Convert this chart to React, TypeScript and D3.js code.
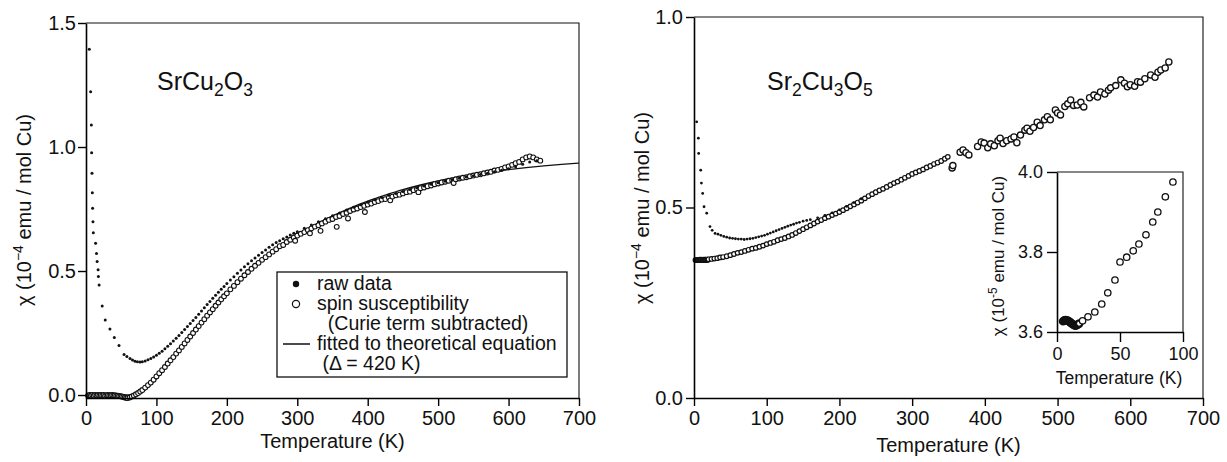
import React, { useEffect, useRef } from "react";
import * as d3 from "d3";

const W = 1227;
const H = 462;
const FONT = "'Liberation Sans', Arial, Helvetica, sans-serif";

type Pt = [number, number];

// ---- SrCu2O3 (left panel), T in K, chi in 1e-4 emu / mol Cu ----
const srCu2O3Raw: Pt[] = [
  [4.7, 1.394], [6.6, 1.223], [7.6, 1.089], [8.0, 0.977], [8.5, 0.894], [9.0, 0.816],
  [9.4, 0.753], [9.9, 0.699], [10.4, 0.654], [13.6, 0.612], [14.9, 0.571], [15.8, 0.538],
  [17.2, 0.505], [17.6, 0.478], [18.6, 0.444], [23, 0.359], [27.3, 0.302], [34, 0.266],
  [40.2, 0.232], [46.9, 0.2], [54, 0.163], [58, 0.155], [62.5, 0.147], [66, 0.141],
  [69.6, 0.136], [73, 0.134], [76.7, 0.133], [80, 0.134], [84, 0.137], [88, 0.142],
  [92, 0.147], [96, 0.153], [100, 0.16], [104, 0.168], [108, 0.177], [112, 0.187],
  [116, 0.197], [120, 0.207], [124, 0.218], [128, 0.229], [132, 0.24], [136, 0.252],
  [140, 0.264], [144, 0.276], [148, 0.288], [152, 0.3], [156, 0.313], [160, 0.326],
  [164, 0.339], [168, 0.352], [172, 0.365], [176, 0.377], [180, 0.39], [184, 0.402],
  [188, 0.414], [192, 0.426], [196, 0.438], [200, 0.45], [205, 0.464], [210, 0.477],
  [215, 0.491], [220, 0.504], [225, 0.517], [230, 0.529], [235, 0.541], [240, 0.552],
  [245, 0.564], [250, 0.575], [255, 0.585], [260, 0.596], [265, 0.606], [270, 0.615],
  [275, 0.622], [280, 0.63], [285, 0.637], [290, 0.645], [295, 0.652], [300, 0.658],
  [310, 0.672], [320, 0.686], [330, 0.699], [340, 0.711], [350, 0.723], [360, 0.734],
  [370, 0.746], [380, 0.757], [390, 0.767], [400, 0.777], [410, 0.787], [420, 0.796],
  [430, 0.805], [440, 0.813], [450, 0.821], [460, 0.829], [470, 0.836], [480, 0.843],
  [490, 0.85], [500, 0.856], [510, 0.862], [520, 0.868], [530, 0.874], [540, 0.879],
  [550, 0.884], [560, 0.889], [570, 0.894], [580, 0.9], [590, 0.906], [600, 0.912],
  [610, 0.92], [620, 0.93], [630, 0.94], [640, 0.945],
];

const srCu2O3Spin: Pt[] = [
  [3, -0.002], [5, 0.0], [7, -0.002], [9, 0.0], [11, -0.003], [13, 0.0], [15, -0.002],
  [17, 0.0], [19, -0.002], [21, 0.0], [23, -0.002], [25, 0.0], [27, -0.003], [29, -0.001],
  [31, 0.0], [33, -0.002], [35, -0.001], [37, 0.0], [39, -0.002], [41, -0.001], [43, -0.003],
  [45, -0.003], [47, -0.004], [49, -0.005], [51, -0.006], [53, -0.008], [55, -0.01],
  [57, -0.011], [59, -0.012], [62, -0.01], [65, -0.006], [68, -0.002], [71, 0.003],
  [74, 0.008], [77, 0.014], [80, 0.02], [84, 0.03], [88, 0.04], [92, 0.05], [96, 0.062],
  [100, 0.075], [104, 0.088], [108, 0.1], [112, 0.113], [116, 0.127], [120, 0.14],
  [124, 0.153], [128, 0.167], [132, 0.18], [136, 0.194], [140, 0.208], [144, 0.222],
  [148, 0.236], [152, 0.25], [156, 0.264], [160, 0.278], [164, 0.292], [168, 0.306],
  [172, 0.32], [176, 0.333], [180, 0.346], [184, 0.36], [188, 0.373], [192, 0.386],
  [196, 0.398], [200, 0.41], [205, 0.426], [210, 0.44], [215, 0.455], [220, 0.469],
  [225, 0.483], [230, 0.496], [235, 0.509], [240, 0.521], [245, 0.533], [250, 0.545],
  [255, 0.556], [260, 0.567], [265, 0.578], [270, 0.588], [275, 0.6], [280, 0.605],
  [285, 0.617], [290, 0.626], [295, 0.635], [297, 0.622], [300, 0.643], [305, 0.65],
  [310, 0.657], [315, 0.665], [318, 0.652], [320, 0.672], [325, 0.679], [330, 0.685],
  [333, 0.662], [335, 0.692], [340, 0.699], [345, 0.706], [350, 0.71], [355, 0.718],
  [356, 0.678], [360, 0.722], [365, 0.73], [370, 0.735], [372, 0.712], [375, 0.742],
  [380, 0.748], [385, 0.752], [390, 0.758], [395, 0.763], [396, 0.738], [400, 0.768],
  [405, 0.772], [410, 0.778], [415, 0.782], [420, 0.788], [425, 0.79], [430, 0.796],
  [432, 0.785], [435, 0.8], [440, 0.805], [445, 0.808], [450, 0.813], [455, 0.818],
  [460, 0.82], [465, 0.826], [470, 0.83], [472, 0.818], [475, 0.834], [480, 0.837],
  [485, 0.842], [490, 0.845], [495, 0.85], [500, 0.853], [505, 0.857], [510, 0.86],
  [515, 0.864], [520, 0.866], [522, 0.855], [525, 0.87], [530, 0.873], [535, 0.876],
  [540, 0.878], [545, 0.882], [550, 0.885], [555, 0.888], [560, 0.89], [565, 0.894],
  [570, 0.897], [575, 0.9], [580, 0.905], [585, 0.908], [590, 0.912], [595, 0.918],
  [600, 0.922], [605, 0.928], [610, 0.935], [615, 0.94], [620, 0.95], [625, 0.958],
  [630, 0.962], [635, 0.958], [640, 0.95], [645, 0.945],
];

const srCu2O3Fit: Pt[] = [
  [0, 0], [40, 0], [60, 0], [70, 0.002], [80, 0.012], [90, 0.035], [100, 0.065],
  [110, 0.1], [120, 0.135], [130, 0.172], [140, 0.208], [150, 0.245], [160, 0.28],
  [170, 0.315], [180, 0.348], [190, 0.38], [200, 0.41], [220, 0.468], [240, 0.52],
  [260, 0.567], [280, 0.608], [300, 0.645], [325, 0.686], [350, 0.722], [375, 0.754],
  [400, 0.782], [425, 0.806], [450, 0.828], [475, 0.847], [500, 0.863], [525, 0.877],
  [550, 0.889], [575, 0.9], [600, 0.909], [625, 0.917], [650, 0.924], [675, 0.93],
  [700, 0.935],
];

// ---- Sr2Cu3O5 (right panel) ----
const sr2Cu3O5Raw: Pt[] = [
  [3.7, 0.725], [6.0, 0.682], [6.4, 0.642], [9.2, 0.598], [10.2, 0.564], [11.9, 0.537],
  [13.8, 0.502], [17.5, 0.485], [22, 0.45], [25, 0.44], [29, 0.432], [33, 0.43],
  [37, 0.427], [41, 0.424], [45, 0.422], [49, 0.42], [53, 0.419], [57, 0.418],
  [61, 0.417], [65, 0.417], [69, 0.416], [73, 0.417], [77, 0.418], [81, 0.419],
  [85, 0.421], [89, 0.423], [93, 0.425], [97, 0.427], [101, 0.43], [105, 0.433],
  [109, 0.436], [113, 0.439], [117, 0.442], [121, 0.445], [125, 0.448], [129, 0.451],
  [133, 0.454], [137, 0.456], [141, 0.459], [145, 0.461], [150, 0.464], [155, 0.466],
  [160, 0.468], [170, 0.473], [180, 0.479], [190, 0.486], [200, 0.494], [210, 0.503],
  [220, 0.513], [230, 0.523],
];

const sr2Cu3O5Spin: Pt[] = [
  [2, 0.362], [3, 0.362], [4, 0.362], [5, 0.362], [6, 0.362], [7, 0.362], [8, 0.363],
  [9, 0.362], [10, 0.363], [11, 0.362], [12, 0.362], [13, 0.363], [14, 0.362], [15, 0.363],
  [16, 0.363], [17, 0.362], [18, 0.363], [19, 0.363], [20, 0.364], [24, 0.365], [28, 0.366],
  [32, 0.367], [36, 0.369], [40, 0.37], [45, 0.372], [50, 0.375], [55, 0.378], [60, 0.381],
  [65, 0.383], [70, 0.386], [75, 0.389], [80, 0.392], [85, 0.394], [90, 0.397], [95, 0.4],
  [100, 0.404], [105, 0.407], [110, 0.41], [115, 0.414], [120, 0.417], [125, 0.42],
  [130, 0.424], [135, 0.428], [140, 0.433], [145, 0.438], [150, 0.443], [155, 0.448],
  [160, 0.453], [165, 0.458], [170, 0.463], [175, 0.467], [180, 0.472], [185, 0.476],
  [190, 0.48], [195, 0.484], [200, 0.488], [205, 0.493], [210, 0.498], [215, 0.503],
  [220, 0.508], [225, 0.513], [230, 0.518], [235, 0.524], [240, 0.53], [245, 0.535],
  [250, 0.54], [255, 0.545], [260, 0.549], [265, 0.554], [270, 0.559], [275, 0.564],
  [280, 0.568], [285, 0.573], [290, 0.578], [295, 0.583], [300, 0.588], [305, 0.592],
  [310, 0.596], [315, 0.6], [320, 0.605], [325, 0.609], [330, 0.614], [335, 0.618],
  [340, 0.622], [345, 0.628], [349, 0.633], [355, 0.604], [356, 0.61], [366, 0.645],
  [370, 0.651], [374, 0.644], [378, 0.638], [390, 0.66], [395, 0.672], [399, 0.669],
  [404, 0.657], [408, 0.667], [413, 0.662], [418, 0.675], [421, 0.682], [425, 0.668],
  [430, 0.675], [436, 0.68], [440, 0.685], [444, 0.67], [449, 0.69], [455, 0.703],
  [458, 0.708], [462, 0.7], [467, 0.71], [472, 0.724], [476, 0.715], [482, 0.73],
  [486, 0.738], [490, 0.73], [497, 0.756], [500, 0.748], [504, 0.743], [510, 0.765],
  [514, 0.772], [518, 0.782], [522, 0.768], [527, 0.769], [532, 0.776], [536, 0.764],
  [544, 0.788], [550, 0.795], [555, 0.79], [559, 0.803], [565, 0.798], [570, 0.808],
  [573, 0.814], [580, 0.82], [587, 0.835], [592, 0.826], [596, 0.817], [600, 0.822],
  [606, 0.818], [610, 0.83], [614, 0.829], [620, 0.838], [628, 0.848], [634, 0.842],
  [638, 0.855], [642, 0.861], [648, 0.866], [653, 0.882],
];

// ---- inset: low-T spin part of Sr2Cu3O5, chi in 1e-5 emu / mol Cu ----
const insetCluster: Pt[] = [
  [4.8, 3.627], [5.8, 3.629], [6.8, 3.63], [7.8, 3.629], [8.8, 3.628], [9.8, 3.626],
  [10.6, 3.624], [11.4, 3.622], [12.2, 3.62], [13, 3.618], [13.8, 3.617], [14.6, 3.616],
  [15.6, 3.617], [16.6, 3.619], [17.6, 3.621],
];
const insetSpin: Pt[] = [
  [20.3, 3.628], [24.6, 3.638], [30, 3.65], [35.5, 3.67], [40.3, 3.698], [46, 3.73],
  [50, 3.775], [55.3, 3.787], [60.5, 3.803], [65, 3.82], [70.6, 3.843], [76, 3.875],
  [80, 3.9], [86, 3.938], [92, 3.975],
];

const tempTicks = [0, 100, 200, 300, 400, 500, 600, 700];
const leftChiTicks = [0, 0.5, 1.0, 1.5];
const rightChiTicks = [0, 0.5, 1.0];
const insetTempTicks = [0, 50, 100];
const insetChiTicks = [3.6, 3.8, 4.0];

const legendItems = [
  { kind: "dot", lines: ["raw data"] },
  { kind: "circle", lines: ["spin susceptibility", "  (Curie term subtracted)"] },
  { kind: "line", lines: ["fitted to theoretical equation", " (\u0394 = 420 K)"] },
];

type Sel = d3.Selection<SVGGElement, unknown, null, undefined>;

function frame(
  g: Sel,
  x: d3.ScaleLinear<number, number>,
  y: d3.ScaleLinear<number, number>,
  xTicks: number[],
  yTicks: number[],
  o: { fs: number; tick: number; xPad: number; yPad: number; yFmt: (d: number) => string }
) {
  const [x0, x1] = x.range();
  const [y0, y1] = y.range();

  const xa = g
    .append("g")
    .attr("transform", `translate(0,${y0})`)
    .call(
      d3
        .axisBottom(x)
        .tickValues(xTicks)
        .tickSize(o.tick)
        .tickSizeOuter(0)
        .tickPadding(o.xPad)
        .tickFormat(d3.format("d") as any)
    );
  const ya = g
    .append("g")
    .attr("transform", `translate(${x0},0)`)
    .call(
      d3
        .axisLeft(y)
        .tickValues(yTicks)
        .tickSize(o.tick)
        .tickSizeOuter(0)
        .tickPadding(o.yPad)
        .tickFormat(o.yFmt as any)
    );
  [xa, ya].forEach((a) => {
    a.attr("font-family", FONT).attr("font-size", o.fs);
    a.select(".domain").attr("stroke-width", 1.6);
    a.selectAll(".tick line").attr("stroke-width", 1.4);
    a.selectAll(".tick text").attr("fill", "#111");
  });

  // top and right edges of the box
  g.append("path")
    .attr("d", `M${x0},${y1}H${x1}V${y0}`)
    .attr("fill", "none")
    .attr("stroke", "#111")
    .attr("stroke-width", 1.1);
}

function chiLabel(g: Sel, cx: number, cy: number, exp: string, fs: number) {
  const t = g
    .append("text")
    .attr("transform", `translate(${cx},${cy}) rotate(-90)`)
    .attr("text-anchor", "middle")
    .attr("font-family", FONT)
    .attr("font-size", fs)
    .attr("fill", "#111");
  t.append("tspan").text("\u03c7 (10");
  t.append("tspan").attr("dy", -fs * 0.42).attr("font-size", fs * 0.7).text(exp);
  t.append("tspan").attr("dy", fs * 0.42).text(" emu / mol Cu)");
}

function formula(g: Sel, x: number, y: number, parts: [string, boolean][], fs: number) {
  const t = g
    .append("text")
    .attr("x", x)
    .attr("y", y)
    .attr("font-family", FONT)
    .attr("font-size", fs)
    .attr("fill", "#111");
  let sub = false;
  parts.forEach(([s, isSub]) => {
    const sp = t.append("tspan").text(s);
    if (isSub && !sub) sp.attr("dy", fs * 0.25).attr("font-size", fs * 0.7);
    else if (isSub) sp.attr("font-size", fs * 0.7);
    else if (sub) sp.attr("dy", -fs * 0.25);
    sub = isSub;
  });
}

function circles(g: Sel, data: Pt[], x: any, y: any, r: number, sw: number) {
  g.append("g")
    .selectAll("circle")
    .data(data)
    .enter()
    .append("circle")
    .attr("cx", (d) => x(d[0]))
    .attr("cy", (d) => y(d[1]))
    .attr("r", r)
    .attr("fill", "white")
    .attr("stroke", "#111")
    .attr("stroke-width", sw);
}

function dots(g: Sel, data: Pt[], x: any, y: any, r: number) {
  g.append("g")
    .selectAll("circle")
    .data(data)
    .enter()
    .append("circle")
    .attr("cx", (d) => x(d[0]))
    .attr("cy", (d) => y(d[1]))
    .attr("r", r)
    .attr("fill", "#111");
}

export default function App() {
  const svgRef = useRef<SVGSVGElement>(null);

  useEffect(() => {
    const svg = d3.select(svgRef.current);
    svg.selectAll("*").remove();
    const root = svg.append("g") as unknown as Sel;
    const fs = 20;

    // ---------- left panel ----------
    const xL = d3.scaleLinear().domain([0, 700]).range([86, 579]);
    const yL = d3.scaleLinear().domain([-0.012, 1.5]).range([398, 23]);
    const gL = root.append("g");

    const fitLine = d3
      .line<Pt>()
      .x((d) => xL(d[0]))
      .y((d) => yL(d[1]))
      .curve(d3.curveMonotoneX);
    gL.append("path")
      .attr("d", fitLine(srCu2O3Fit))
      .attr("fill", "none")
      .attr("stroke", "#111")
      .attr("stroke-width", 1.4);
    circles(gL, srCu2O3Spin, xL, yL, 2.4, 1.1);
    dots(gL, srCu2O3Raw, xL, yL, 1.5);

    frame(gL, xL, yL, tempTicks, leftChiTicks, {
      fs,
      tick: 8,
      xPad: 5,
      yPad: 2,
      yFmt: d3.format(".1f"),
    });
    chiLabel(gL, 31, 210, "\u22124", fs);
    gL.append("text")
      .attr("x", (xL.range()[0] + xL.range()[1]) / 2)
      .attr("y", 448)
      .attr("text-anchor", "middle")
      .attr("font-family", FONT)
      .attr("font-size", fs)
      .attr("fill", "#111")
      .text("Temperature (K)");
    formula(gL, 157, 90, [["SrCu", false], ["2", true], ["O", false], ["3", true]], 25);

    // legend
    const lg = gL.append("g");
    lg.append("rect")
      .attr("x", 277)
      .attr("y", 272)
      .attr("width", 290)
      .attr("height", 105)
      .attr("fill", "white")
      .attr("stroke", "#111")
      .attr("stroke-width", 1.3);
    let row = 0;
    legendItems.forEach((it) => {
      const by = 290 + row * 20;
      if (it.kind === "dot") lg.append("circle").attr("cx", 296).attr("cy", by - 6).attr("r", 3.2).attr("fill", "#111");
      if (it.kind === "circle")
        lg.append("circle").attr("cx", 296).attr("cy", by - 6).attr("r", 3.6).attr("fill", "white").attr("stroke", "#111").attr("stroke-width", 1.2);
      if (it.kind === "line")
        lg.append("line").attr("x1", 283).attr("x2", 310).attr("y1", by - 6).attr("y2", by - 6).attr("stroke", "#111").attr("stroke-width", 1.5);
      it.lines.forEach((s) => {
        lg.append("text")
          .attr("x", 317)
          .attr("y", 290 + row * 20)
          .attr("font-family", FONT)
          .attr("font-size", 19.5)
          .attr("fill", "#111")
          .style("white-space", "pre")
          .text(s);
        row += 1;
      });
    });

    // ---------- right panel ----------
    const xR = d3.scaleLinear().domain([0, 700]).range([694, 1203]);
    const yR = d3.scaleLinear().domain([0, 1.0]).range([398, 17]);
    const gR = root.append("g");
    circles(gR, sr2Cu3O5Spin.filter((d) => d[0] < 350), xR, yR, 2.3, 1.2);
    circles(gR, sr2Cu3O5Spin.filter((d) => d[0] >= 350), xR, yR, 3.1, 1.3);
    dots(gR, sr2Cu3O5Raw, xR, yR, 1.4);
    frame(gR, xR, yR, tempTicks, rightChiTicks, {
      fs,
      tick: 8,
      xPad: 5,
      yPad: 3,
      yFmt: d3.format(".1f"),
    });
    chiLabel(gR, 649, 208, "\u22124", fs);
    gR.append("text")
      .attr("x", (xR.range()[0] + xR.range()[1]) / 2)
      .attr("y", 452)
      .attr("text-anchor", "middle")
      .attr("font-family", FONT)
      .attr("font-size", fs)
      .attr("fill", "#111")
      .text("Temperature (K)");
    formula(
      gR,
      767,
      90,
      [["Sr", false], ["2", true], ["Cu", false], ["3", true], ["O", false], ["5", true]],
      25
    );

    // ---------- inset ----------
    const xI = d3.scaleLinear().domain([0, 100]).range([1057, 1183]);
    const yI = d3.scaleLinear().domain([3.6, 4.0]).range([332, 172]);
    const gI = root.append("g");
    gI.append("rect").attr("x", 1057).attr("y", 172).attr("width", 126).attr("height", 160).attr("fill", "white");
    circles(gI, insetCluster, xI, yI, 3.2, 2.2);
    circles(gI, insetSpin, xI, yI, 3.2, 1.3);
    frame(gI, xI, yI, insetTempTicks, insetChiTicks, {
      fs: 18,
      tick: 10,
      xPad: 5,
      yPad: 4,
      yFmt: d3.format(".1f"),
    });
    chiLabel(gI, 1004, 256, "-5", 17);
    gI.append("text")
      .attr("x", 1119)
      .attr("y", 384)
      .attr("text-anchor", "middle")
      .attr("font-family", FONT)
      .attr("font-size", 17.5)
      .attr("fill", "#111")
      .text("Temperature (K)");
  }, []);

  return (
    <svg
      ref={svgRef}
      width={W}
      height={H}
      style={{ position: "absolute", left: 0, top: 0, background: "white" }}
    />
  );
}
